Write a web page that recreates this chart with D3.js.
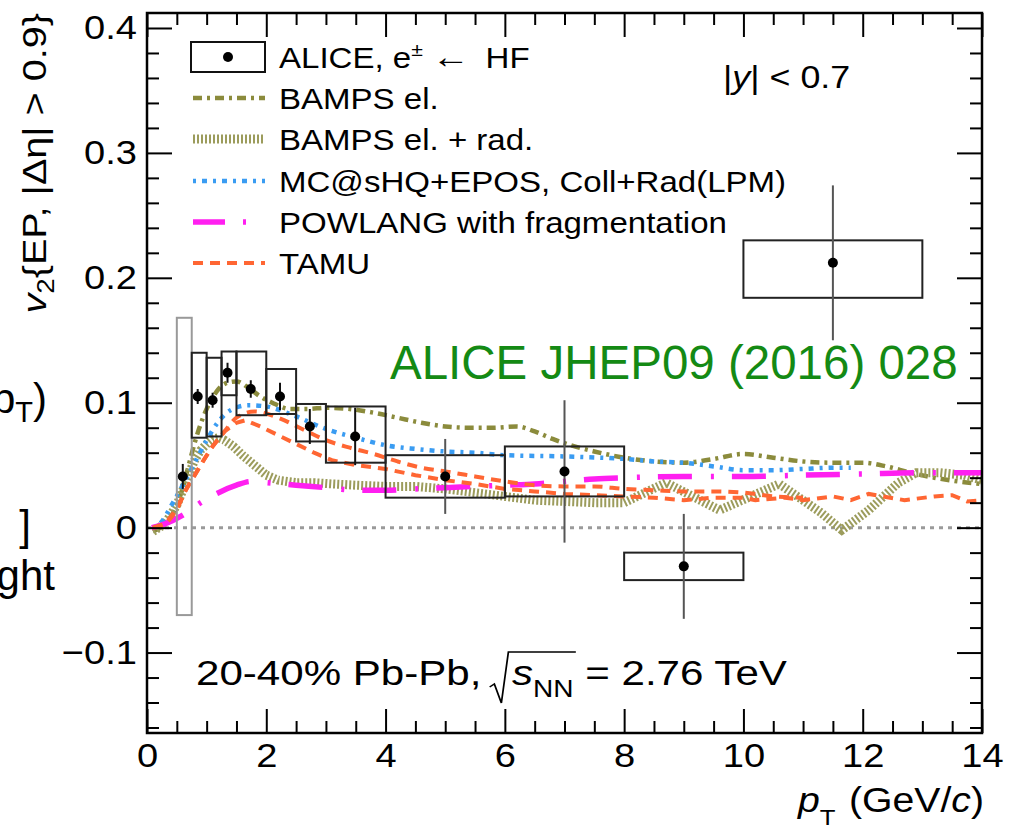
<!DOCTYPE html>
<html>
<head>
<meta charset="utf-8">
<script src="https://cdn.jsdelivr.net/npm/d3@7"></script>
<style>
  body { margin: 0; background: #fff; }
  svg { display: block; }
</style>
</head>
<body>
<div id="chart"></div>
<script>
// ALICE e <- HF, 20-40% Pb-Pb
const ptLow   = [0.5, 0.75, 1.0, 1.25, 1.5, 2.0, 2.5, 3.0, 4.0, 6.0, 8.0, 10.0]
const ptHigh  = [0.75, 1.0, 1.25, 1.5, 2.0, 2.5, 3.0, 4.0, 6.0, 8.0, 10.0, 13.0]
const ptMean  = [0.6, 0.85, 1.1, 1.35, 1.74, 2.23, 2.73, 3.49, 5.0, 7.0, 9.0, 11.5]
const v2Value = [0.041, 0.105, 0.102, 0.124, 0.111, 0.105, 0.081, 0.073, 0.041, 0.045, -0.031, 0.212]
const v2Stat  = [0.010, 0.006, 0.006, 0.008, 0.007, 0.011, 0.014, 0.023, 0.030, 0.057, 0.042, 0.062]
const v2SysUp   = [0.168, 0.140, 0.136, 0.141, 0.141, 0.127, 0.099, 0.097, 0.058, 0.065, -0.020, 0.230]
const v2SysDown = [-0.070, 0.072, 0.073, 0.106, 0.090, 0.091, 0.069, 0.052, 0.024, 0.025, -0.042, 0.184]

// model curves
const bampsPt = [0.1, 0.3, 0.5, 0.6, 0.7, 0.8, 0.9, 1.0, 1.1, 1.2, 1.35, 1.5, 1.7, 1.9, 2.1, 2.4, 2.7, 3.0, 3.4, 3.8, 4.2, 4.6, 5.0, 5.4, 5.8, 6.2, 6.5, 6.8, 7.1, 7.5, 8.0, 8.5, 9.0, 9.5, 10.0, 10.5, 11.0, 11.5, 12.0, 12.4, 12.8, 13.2, 13.6, 14.0]
const bampsV2 = [-0.003, 0.003, 0.018, 0.032, 0.050, 0.068, 0.083, 0.095, 0.104, 0.111, 0.116, 0.117, 0.112, 0.105, 0.100, 0.095, 0.095, 0.096, 0.095, 0.092, 0.088, 0.084, 0.081, 0.080, 0.080, 0.081, 0.077, 0.071, 0.066, 0.061, 0.056, 0.053, 0.052, 0.055, 0.059, 0.056, 0.053, 0.052, 0.052, 0.049, 0.044, 0.040, 0.037, 0.035]

const bampsRadPt = [0.1, 0.3, 0.5, 0.6, 0.7, 0.8, 0.9, 1.0, 1.1, 1.2, 1.3, 1.45, 1.6, 1.8, 2.0, 2.2, 2.5, 2.8, 3.1, 3.5, 4.0, 4.5, 5.0, 5.5, 6.0, 6.5, 7.0, 7.5, 8.0, 8.7, 9.6, 10.6, 11.3, 11.65, 12.1, 12.6, 12.9, 13.3, 13.7, 14.0]
const bampsRadV2 = [-0.003, 0.003, 0.018, 0.030, 0.043, 0.054, 0.062, 0.067, 0.071, 0.072, 0.070, 0.065, 0.058, 0.050, 0.042, 0.038, 0.036, 0.036, 0.035, 0.034, 0.033, 0.033, 0.031, 0.028, 0.025, 0.022, 0.021, 0.020, 0.020, 0.036, 0.014, 0.035, 0.012, -0.002, 0.014, 0.036, 0.044, 0.044, 0.042, 0.038]

const mcshqPt = [0.1, 0.25, 0.4, 0.6, 0.8, 1.0, 1.2, 1.4, 1.7, 2.0, 2.5, 3.0, 3.5, 4.0, 4.5, 5.0, 5.5, 6.0, 7.0, 8.0, 8.5, 9.0, 9.5, 10.0, 10.5, 11.0, 11.5, 11.8]
const mcshqV2 = [0.000, 0.005, 0.017, 0.034, 0.052, 0.070, 0.085, 0.094, 0.098, 0.097, 0.089, 0.079, 0.072, 0.066, 0.063, 0.061, 0.060, 0.058, 0.057, 0.055, 0.053, 0.052, 0.049, 0.046, 0.046, 0.047, 0.048, 0.048]

const powlangPt = [0.08, 0.3, 0.6, 0.9, 1.2, 1.5, 1.75, 2.0, 2.5, 3.0, 3.5, 4.0, 4.5, 5.0, 5.5, 6.0, 6.5, 7.0, 7.5, 8.0, 9.0, 10.0, 11.0, 12.0, 13.0, 14.0]
const powlangV2 = [0.000, 0.003, 0.010, 0.020, 0.028, 0.034, 0.037, 0.036, 0.034, 0.032, 0.030, 0.030, 0.031, 0.032, 0.033, 0.034, 0.035, 0.037, 0.039, 0.040, 0.041, 0.041, 0.042, 0.043, 0.044, 0.044]

const tamuUpPt = [0.1, 0.3, 0.5, 0.65, 0.8, 0.95, 1.1, 1.3, 1.5, 1.8, 2.2, 2.6, 3.0, 3.4, 3.8, 4.2, 4.6, 5.0, 5.5, 6.0, 6.5, 7.0, 7.5, 8.0, 8.5, 9.0, 9.5, 10.0, 10.5, 11.0]
const tamuUpV2 = [0.000, 0.003, 0.015, 0.030, 0.042, 0.054, 0.065, 0.077, 0.088, 0.093, 0.088, 0.079, 0.070, 0.064, 0.059, 0.053, 0.048, 0.045, 0.041, 0.037, 0.034, 0.033, 0.033, 0.031, 0.030, 0.029, 0.029, 0.028, 0.025, 0.024]
const tamuLowPt = [0.1, 0.3, 0.5, 0.65, 0.8, 0.95, 1.1, 1.3, 1.5, 1.65, 1.9, 2.2, 2.5, 2.8, 3.1, 3.5, 4.0, 4.5, 5.0, 5.5, 6.0, 6.5, 7.0, 7.5, 8.0, 8.5, 9.0, 9.5, 10.0, 10.2, 10.7, 11.0, 11.5, 11.8, 12.1, 12.7, 13.2, 13.5, 13.75, 14.0]
const tamuLowV2 = [0.000, 0.003, 0.015, 0.030, 0.042, 0.054, 0.065, 0.077, 0.084, 0.086, 0.081, 0.074, 0.067, 0.060, 0.054, 0.050, 0.047, 0.042, 0.038, 0.035, 0.031, 0.029, 0.027, 0.026, 0.025, 0.024, 0.022, 0.024, 0.024, 0.022, 0.024, 0.022, 0.025, 0.022, 0.027, 0.022, 0.025, 0.026, 0.021, 0.022]

const xTicks = [0, 2, 4, 6, 8, 10, 12, 14]
const yTicks = [-0.1, 0, 0.1, 0.2, 0.3, 0.4]
const legendLabels = ["ALICE, e", "BAMPS el.", "BAMPS el. + rad.", "MC@sHQ+EPOS, Coll+Rad(LPM)", "POWLANG with fragmentation", "TAMU"]

const width = 1009
const height = 837
const marginLeft = 147
const marginRight = 27
const marginTop = 13
const marginBottom = 104
const FONT = "'Liberation Sans', Arial, Helvetica, sans-serif"
const SX = 1.12   // root text is a bit wider than arial

const x = d3.scaleLinear([0, 14], [marginLeft, width - marginRight])
const y = d3.scaleLinear([-0.1644, 0.412], [height - marginBottom, marginTop])

const svg = d3.select("#chart").append("svg")
    .attr("width", width)
    .attr("height", height)
    .attr("viewBox", [0, 0, width, height])

svg.append("defs").append("clipPath").attr("id", "plot")
    .append("rect")
    .attr("x", marginLeft).attr("y", marginTop)
    .attr("width", width - marginLeft - marginRight)
    .attr("height", height - marginTop - marginBottom)

function addText(px, py, size, opts = {}) {
    const g = svg.append("g")
        .attr("transform", `translate(${px},${py})` + (opts.rotate ? ` rotate(${opts.rotate})` : "") + ` scale(${opts.sx ?? SX},1)`)
    g.append("text")
        .attr("font-family", FONT)
        .attr("font-size", size)
        .attr("text-anchor", opts.anchor || "start")
        .attr("fill", opts.fill || "#000")
    return g
}

// slide text that the crop cuts at the left edge
{
    const g = addText(47, 413, 42, {anchor: "end", sx: 1})
    const t = g.select("text")
    t.append("tspan").text("v(p")
    t.append("tspan").attr("font-size", 29).attr("dy", 9).text("T")
    t.append("tspan").attr("dy", -9).text(")")
    addText(31, 540, 42, {anchor: "end", sx: 1}).select("text").text("]")
    addText(55, 590, 42, {anchor: "end", sx: 1}).select("text").text("weight")
}

// zero line
svg.append("line")
    .attr("x1", x(0)).attr("x2", x(14))
    .attr("y1", y(0)).attr("y2", y(0))
    .attr("stroke", "#9a9a9a")
    .attr("stroke-width", 3)
    .attr("stroke-dasharray", "4,5")

// model curves
const models = [
    {pt: bampsPt, v2: bampsV2, color: "#8b8b3c", width: 4.5, dash: "9,5,3,5", curve: d3.curveMonotoneX},
    {pt: bampsRadPt, v2: bampsRadV2, color: "#9c9c5c", width: 9, dash: "2,2", curve: d3.curveLinear},
    {pt: mcshqPt, v2: mcshqV2, color: "#3a9cf2", width: 4.5, dash: "3,6,5,6", curve: d3.curveMonotoneX},
    {pt: powlangPt, v2: powlangV2, color: "#ff1ff0", width: 5.5, dash: "34,19,3,18", curve: d3.curveMonotoneX},
    {pt: tamuUpPt, v2: tamuUpV2, color: "#ff6633", width: 4, dash: "10,7", curve: d3.curveMonotoneX},
    {pt: tamuLowPt, v2: tamuLowV2, color: "#ff6633", width: 4, dash: "10,7", curve: d3.curveLinear}
]

const curves = svg.append("g").attr("clip-path", "url(#plot)").attr("fill", "none")
models.forEach(m => {
    const line = d3.line().curve(m.curve).x(i => x(m.pt[i])).y(i => y(m.v2[i]))
    curves.append("path")
        .attr("d", line(d3.range(m.pt.length)))
        .attr("stroke", m.color)
        .attr("stroke-width", m.width)
        .attr("stroke-dasharray", m.dash)
})

// data: systematic boxes, stat bars, markers
const I = d3.range(v2Value.length)
svg.append("g")
    .attr("fill", "none")
    .attr("stroke-width", 2)
    .selectAll("rect")
    .data(I)
    .join("rect")
    .attr("x", i => x(ptLow[i]))
    .attr("width", i => x(ptHigh[i]) - x(ptLow[i]))
    .attr("y", i => y(v2SysUp[i]))
    .attr("height", i => y(v2SysDown[i]) - y(v2SysUp[i]))
    .attr("stroke", i => i === 0 ? "#999" : "#222")

svg.append("g")
    .attr("stroke-width", 2)
    .selectAll("line")
    .data(I)
    .join("line")
    .attr("x1", i => x(ptMean[i])).attr("x2", i => x(ptMean[i]))
    .attr("y1", i => y(v2Value[i] - v2Stat[i]))
    .attr("y2", i => y(v2Value[i] + v2Stat[i]))
    .attr("stroke", i => v2Stat[i] > 0.025 ? "#555" : "#111")

svg.append("g")
    .selectAll("circle")
    .data(I)
    .join("circle")
    .attr("cx", i => x(ptMean[i]))
    .attr("cy", i => y(v2Value[i]))
    .attr("r", 5)
    .attr("fill", "#000")

// axes, ticks inward on all four sides
function styleAxis(g) {
    g.select(".domain").remove()
    g.selectAll(".tick line").attr("stroke", "#000").attr("stroke-width", 2)
}
const minorX = d3.range(0, 14.01, 0.5).filter(v => v % 2 !== 0)
const minorY = d3.range(-16, 42, 2).map(v => v / 100).filter(v => Math.round(v * 100) % 10 !== 0)

svg.append("g")
    .attr("transform", `translate(0,${height - marginBottom})`)
    .call(d3.axisBottom(x).tickValues(xTicks).tickSize(-24).tickPadding(10).tickFormat(d3.format("d")))
    .call(styleAxis)
    .call(g => g.selectAll("text").attr("font-size", 34).attr("font-family", FONT).attr("fill", "#000")
        .attr("transform", `scale(${SX},1)`))
svg.append("g")
    .attr("transform", `translate(0,${height - marginBottom})`)
    .call(d3.axisBottom(x).tickValues(minorX).tickSize(-12).tickFormat(""))
    .call(styleAxis)
svg.append("g")
    .attr("transform", `translate(0,${marginTop})`)
    .call(d3.axisTop(x).tickValues(xTicks).tickSize(-24).tickFormat(""))
    .call(styleAxis)
svg.append("g")
    .attr("transform", `translate(0,${marginTop})`)
    .call(d3.axisTop(x).tickValues(minorX).tickSize(-12).tickFormat(""))
    .call(styleAxis)

svg.append("g")
    .attr("transform", `translate(${marginLeft},0)`)
    .call(d3.axisLeft(y).tickValues(yTicks).tickSize(-25).tickPadding(9)
        .tickFormat(d => d === 0 ? "0" : d3.format(".1f")(d)))
    .call(styleAxis)
    .call(g => g.selectAll("text").attr("font-size", 34).attr("font-family", FONT).attr("fill", "#000")
        .attr("transform", `scale(${SX},1)`))
svg.append("g")
    .attr("transform", `translate(${marginLeft},0)`)
    .call(d3.axisLeft(y).tickValues(minorY).tickSize(-12).tickFormat(""))
    .call(styleAxis)
svg.append("g")
    .attr("transform", `translate(${width - marginRight},0)`)
    .call(d3.axisRight(y).tickValues(yTicks).tickSize(-25).tickFormat(""))
    .call(styleAxis)
svg.append("g")
    .attr("transform", `translate(${width - marginRight},0)`)
    .call(d3.axisRight(y).tickValues(minorY).tickSize(-12).tickFormat(""))
    .call(styleAxis)

// frame
svg.append("rect")
    .attr("x", marginLeft).attr("y", marginTop)
    .attr("width", width - marginLeft - marginRight)
    .attr("height", height - marginTop - marginBottom)
    .attr("fill", "none")
    .attr("stroke", "#000")
    .attr("stroke-width", 2.5)

// axis titles
{
    const g = addText(984, 812, 35, {anchor: "end"})
    const t = g.select("text")
    t.append("tspan").attr("font-style", "italic").text("p")
    t.append("tspan").attr("font-size", 23).attr("dy", 13).text("T")
    t.append("tspan").attr("dy", -13).attr("dx", 12).text("(GeV/")
    t.append("tspan").attr("font-style", "italic").text("c")
    t.append("tspan").text(")")
}
{
    const g = addText(46, 13, 33, {anchor: "end", rotate: -90, sx: 1.2})
    const t = g.select("text")
    t.append("tspan").attr("font-style", "italic").text("v")
    t.append("tspan").attr("font-size", 23).attr("dy", 8).text("2")
    t.append("tspan").attr("dy", -8).text("{EP, |Δη| > 0.9}")
}

// legend
const legendY = [57, 98, 139, 181, 222, 263]
const legendX0 = 191
const legendX1 = 265
{
    svg.append("rect")
        .attr("x", legendX0).attr("y", legendY[0] - 15)
        .attr("width", legendX1 - legendX0).attr("height", 30)
        .attr("fill", "none").attr("stroke", "#111").attr("stroke-width", 2)
    svg.append("circle")
        .attr("cx", (legendX0 + legendX1) / 2).attr("cy", legendY[0]).attr("r", 5).attr("fill", "#000")
    const lm = [models[0], models[1], models[2], models[3], models[4]]
    lm.forEach((m, k) => {
        svg.append("line")
            .attr("x1", legendX0 + 2).attr("x2", legendX1)
            .attr("y1", legendY[k + 1]).attr("y2", legendY[k + 1])
            .attr("stroke", m.color)
            .attr("stroke-width", m.width)
            .attr("stroke-dasharray", m === models[3] ? "32,18,3,20" : m.dash)
    })
    legendLabels.forEach((label, k) => {
        const t = addText(279, legendY[k] + 10.5, 29.5).select("text")
        t.append("tspan").text(label)
        if (k === 0) {
            t.append("tspan").attr("font-size", 19).attr("dy", -12).text("±")
            t.append("tspan").attr("dy", 12).attr("dx", 8).attr("font-size", 34).text("←")
            t.append("tspan").attr("dx", 14).text("HF")
        }
    })
}

// |y| < 0.7
{
    const t = addText(723, 88, 32).select("text")
    t.append("tspan").text("|")
    t.append("tspan").attr("font-style", "italic").text("y")
    t.append("tspan").text("|  <  0.7")
}

// publication reference
addText(390, 379, 47.5, {sx: 1, fill: "#148a14"}).select("text").text("ALICE JHEP09 (2016) 028")

// collision system
{
    const g = addText(196, 685, 36, {sx: 1.17})
    const t = g.select("text")
    const prefix = "20-40% Pb-Pb, "
    t.append("tspan").text(prefix)
    t.append("tspan").attr("dx", 16).attr("font-style", "italic").text("s")
    t.append("tspan").attr("font-size", 24).attr("dy", 12).text("NN")
    t.append("tspan").attr("dy", -12).text(" = 2.76 TeV")
    const node = t.node()
    const s0 = node.getStartPositionOfChar(prefix.length).x
    const s1 = node.getEndPositionOfChar(prefix.length + 2).x
    g.append("path")
        .attr("d", `M${s0 - 19},2 L${s0 - 15},-1 L${s0 - 9},18 L${s0 - 3},-33 L${s1 + 2},-33`)
        .attr("fill", "none")
        .attr("stroke", "#000")
        .attr("stroke-width", 1.5)
}
</script>
</body>
</html>
